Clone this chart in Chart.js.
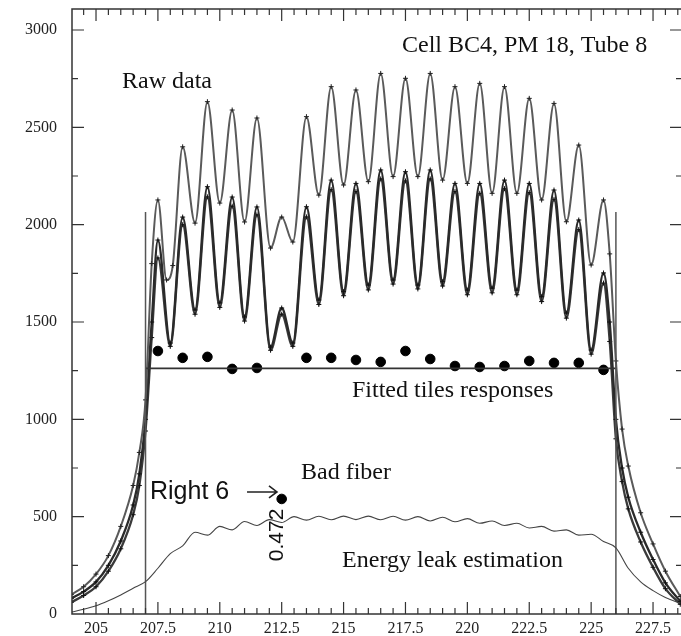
<!DOCTYPE html>
<html>
<head>
<meta charset="utf-8">
<script src="https://cdn.jsdelivr.net/npm/chart.js@4.4.1/dist/chart.umd.min.js"></script>
<style>
  html, body { margin: 0; padding: 0; background: #fff; overflow: hidden; }
  #wrap { position: relative; width: 681px; height: 636px; overflow: hidden; }
  canvas { position: absolute; left: 0; top: 0; }
</style>
</head>
<body>
<div id="wrap"><canvas id="chart" width="683" height="636"></canvas></div>
<script>
// axis ticks
const xTicks = [205, 207.5, 210, 212.5, 215, 217.5, 220, 222.5, 225, 227.5];
const yTicks = [0, 500, 1000, 1500, 2000, 2500, 3000];

// raw data, upper (grey) scan
const topX = [204.0, 204.5, 205.0, 205.5, 206.0, 206.5, 206.75, 207.0, 207.25, 207.5, 207.85, 208.1, 208.5, 209.0, 209.5, 210.0, 210.5, 211.0, 211.5, 212.05, 212.5, 212.95, 213.5, 214.0, 214.5, 215.0, 215.5, 216.0, 216.5, 217.0, 217.5, 218.0, 218.5, 219.0, 219.5, 220.0, 220.5, 221.0, 221.5, 222.0, 222.5, 223.0, 223.5, 224.0, 224.5, 225.0, 225.5, 225.75, 226.0, 226.25, 226.5, 227.0, 227.5, 228.0, 228.6];
const topY = [100, 140, 205, 300, 450, 660, 830, 1100, 1800, 2127, 1716, 1790, 2400, 2008, 2632, 2111, 2589, 2014, 2548, 1880, 2039, 1911, 2555, 2152, 2709, 2204, 2692, 2221, 2777, 2247, 2752, 2247, 2777, 2229, 2709, 2212, 2726, 2161, 2709, 2161, 2649, 2127, 2623, 2015, 2409, 1793, 2127, 1850, 1300, 950, 760, 520, 360, 220, 90];

// raw data, two lower (dark) scans
const lowX = [204.0, 204.5, 205.0, 205.5, 206.0, 206.5, 206.75, 207.0, 207.25, 207.5, 208.0, 208.5, 209.0, 209.5, 210.0, 210.5, 211.0, 211.5, 212.05, 212.5, 212.95, 213.5, 214.0, 214.5, 215.0, 215.5, 216.0, 216.5, 217.0, 217.5, 218.0, 218.5, 219.0, 219.5, 220.0, 220.5, 221.0, 221.5, 222.0, 222.5, 223.0, 223.5, 224.0, 224.5, 225.0, 225.5, 225.75, 226.0, 226.25, 226.5, 227.0, 227.5, 228.0, 228.6];
const lowAY = [80, 115, 165, 250, 375, 560, 720, 1000, 1500, 1921, 1392, 2039, 1562, 2195, 1598, 2142, 1526, 2091, 1371, 1572, 1392, 2092, 1613, 2229, 1656, 2212, 1690, 2281, 1716, 2272, 1690, 2281, 1707, 2212, 1664, 2212, 1674, 2229, 1664, 2212, 1630, 2178, 1546, 2024, 1356, 1752, 1500, 1000, 750, 600, 420, 280, 160, 65];
const lowBY = [60, 95, 140, 220, 335, 510, 660, 940, 1420, 1829, 1375, 2000, 1540, 2143, 1575, 2095, 1505, 2050, 1355, 1540, 1375, 2040, 1590, 2180, 1635, 2170, 1665, 2235, 1695, 2225, 1670, 2235, 1685, 2170, 1640, 2161, 1650, 2185, 1640, 2165, 1605, 2130, 1520, 1975, 1335, 1700, 1400, 900, 680, 540, 370, 240, 130, 50];

// fitted tile responses
const tileX = [207.5, 208.5, 209.5, 210.5, 211.5, 213.5, 214.5, 215.5, 216.5, 217.5, 218.5, 219.5, 220.5, 221.5, 222.5, 223.5, 224.5, 225.5];
const tileY = [1351, 1316, 1321, 1259, 1264, 1316, 1316, 1305, 1295, 1351, 1310, 1274, 1269, 1274, 1300, 1290, 1290, 1254];
const badX = [212.5];
const badY = [591];
const fitLevel = 1262;
const cellEdges = [207, 226];
const edgeTop = 2065;

// energy leak estimation
const leakX = [204.0, 204.5, 205.0, 205.5, 206.0, 206.5, 207.0, 207.5, 208.0, 208.5, 209.0, 209.5, 210.0, 210.5, 211.0, 211.5, 212.0, 212.5, 213.0, 213.5, 214.0, 214.5, 215.0, 215.5, 216.0, 216.5, 217.0, 217.5, 218.0, 218.5, 219.0, 219.5, 220.0, 220.5, 221.0, 221.5, 222.0, 222.5, 223.0, 223.5, 224.0, 224.5, 225.0, 225.5, 226.0, 226.5, 227.0, 227.5, 228.0, 228.6];
const leakY = [10, 24, 42, 68, 98, 132, 166, 235, 310, 350, 420, 405, 450, 432, 475, 455, 485, 470, 500, 482, 502, 484, 503, 485, 503, 484, 502, 482, 500, 478, 497, 474, 490, 466, 478, 455, 466, 442, 450, 426, 432, 405, 410, 372, 340, 235, 165, 120, 85, 55];

function pts(xs, ys) {
    return xs.map((x, i) => ({ x: x, y: ys[i] }));
}

const serif = '"Liberation Serif", "Times New Roman", serif';
const sans = '"Liberation Sans", Arial, sans-serif';

// text placed in data coordinates
const notes = [
    { text: 'Cell BC4, PM 18, Tube 8', x: 217.36, y: 2887, font: '24px ' + serif },
    { text: 'Raw data', x: 206.05, y: 2702, font: '24px ' + serif },
    { text: 'Fitted tiles responses', x: 215.34, y: 1115, font: '24px ' + serif },
    { text: 'Bad fiber', x: 213.28, y: 693, font: '24px ' + serif },
    { text: 'Energy leak estimation', x: 214.94, y: 241, font: '24px ' + serif },
    { text: 'Right 6', x: 207.18, y: 591, font: '25px ' + sans }
];

const framePlugin = {
    id: 'frame',
    afterDraw(chart) {
        const ctx = chart.ctx;
        const a = chart.chartArea;
        const xs = chart.scales.x;
        const ys = chart.scales.y;
        ctx.save();
        ctx.strokeStyle = '#333';
        ctx.lineWidth = 1.5;
        ctx.strokeRect(a.left, a.top, a.right - a.left, a.bottom - a.top);

        // inward ticks
        ctx.lineWidth = 1.2;
        ctx.beginPath();
        for (let v = 204.5; v < 228.6; v += 0.5) {
            const px = xs.getPixelForValue(v);
            const len = xTicks.includes(v) ? 12 : 6;
            ctx.moveTo(px, a.bottom); ctx.lineTo(px, a.bottom - len);
            ctx.moveTo(px, a.top); ctx.lineTo(px, a.top + len);
        }
        for (let v = 250; v < 3100; v += 250) {
            const py = ys.getPixelForValue(v);
            const len = yTicks.includes(v) ? 12 : 6;
            ctx.moveTo(a.left, py); ctx.lineTo(a.left + len, py);
            ctx.moveTo(a.right, py); ctx.lineTo(a.right - len, py);
        }
        ctx.stroke();

        // annotations
        ctx.fillStyle = '#111';
        ctx.textBaseline = 'alphabetic';
        ctx.textAlign = 'left';
        notes.forEach(n => {
            ctx.font = n.font;
            ctx.fillText(n.text, xs.getPixelForValue(n.x), ys.getPixelForValue(n.y));
        });

        // arrow towards the bad fiber
        const ax0 = xs.getPixelForValue(211.1);
        const ax1 = xs.getPixelForValue(212.31);
        const ay = ys.getPixelForValue(627);
        ctx.strokeStyle = '#222';
        ctx.lineWidth = 1.6;
        ctx.beginPath();
        ctx.moveTo(ax0, ay); ctx.lineTo(ax1, ay);
        ctx.moveTo(ax1 - 8, ay - 6); ctx.lineTo(ax1, ay); ctx.lineTo(ax1 - 8, ay + 6);
        ctx.stroke();

        // rotated value of the bad fiber
        ctx.save();
        ctx.translate(xs.getPixelForValue(212.32), ys.getPixelForValue(406));
        ctx.rotate(-Math.PI / 2);
        ctx.font = '21px ' + sans;
        ctx.textAlign = 'center';
        ctx.textBaseline = 'middle';
        ctx.fillText('0.472', 0, 0);
        ctx.restore();
        ctx.restore();
    }
};

const rawStyle = {
    pointStyle: 'cross',
    pointRadius: 2.5,
    pointBorderWidth: 1,
    cubicInterpolationMode: 'monotone',
    fill: false
};

new Chart(document.getElementById('chart'), {
    type: 'scatter',
    data: {
        datasets: [
            {
                label: 'Energy leak estimation',
                data: pts(leakX, leakY),
                showLine: true,
                borderColor: '#444',
                borderWidth: 1.1,
                pointRadius: 0,
                cubicInterpolationMode: 'monotone'
            },
            {
                label: 'left edge',
                data: [{ x: cellEdges[0], y: 0 }, { x: cellEdges[0], y: edgeTop }],
                showLine: true,
                borderColor: '#555',
                borderWidth: 1.5,
                pointRadius: 0
            },
            {
                label: 'right edge',
                data: [{ x: cellEdges[1], y: 0 }, { x: cellEdges[1], y: edgeTop }],
                showLine: true,
                borderColor: '#555',
                borderWidth: 1.5,
                pointRadius: 0
            },
            {
                label: 'fit',
                data: [{ x: cellEdges[0], y: fitLevel }, { x: cellEdges[1], y: fitLevel }],
                showLine: true,
                borderColor: '#333',
                borderWidth: 1.8,
                pointRadius: 0
            },
            Object.assign({
                label: 'Raw data top',
                data: pts(topX, topY),
                showLine: true,
                borderWidth: 2,
                borderColor: '#5a5a5a',
                pointBorderColor: '#222'
            }, rawStyle),
            Object.assign({
                label: 'Raw data A',
                data: pts(lowX, lowAY),
                showLine: true,
                borderWidth: 2.3,
                borderColor: '#2a2a2a',
                pointBorderColor: '#111'
            }, rawStyle),
            Object.assign({
                label: 'Raw data B',
                data: pts(lowX, lowBY),
                showLine: true,
                borderWidth: 2.3,
                borderColor: '#3a3a3a',
                pointBorderColor: '#111'
            }, rawStyle),
            {
                label: 'Fitted tiles responses',
                data: pts(tileX, tileY),
                pointRadius: 4.8,
                pointBackgroundColor: '#000',
                pointBorderColor: '#000'
            },
            {
                label: 'Bad fiber',
                data: pts(badX, badY),
                pointRadius: 4.8,
                pointBackgroundColor: '#000',
                pointBorderColor: '#000'
            }
        ]
    },
    options: {
        responsive: false,
        animation: false,
        layout: { autoPadding: false, padding: { top: 9, right: 1, left: 0, bottom: 0 } },
        plugins: {
            legend: { display: false },
            tooltip: { enabled: false }
        },
        scales: {
            x: {
                type: 'linear',
                min: 204.03,
                max: 228.67,
                grid: { display: false, drawTicks: false },
                border: { display: false },
                ticks: {
                    font: { family: serif, size: 16 },
                    color: '#222',
                    padding: 5,
                    maxRotation: 0,
                    autoSkip: false,
                    callback: v => String(v)
                },
                afterBuildTicks: ax => { ax.ticks = xTicks.map(v => ({ value: v })); },
                afterFit: ax => {
                    ax.height = 22;
                    ax.paddingLeft = 0;
                    ax.paddingRight = 0;
                }
            },
            y: {
                type: 'linear',
                min: 0,
                max: 3108,
                grid: { display: false, drawTicks: false },
                border: { display: false },
                ticks: {
                    font: { family: serif, size: 16 },
                    color: '#222',
                    padding: 15,
                    autoSkip: false,
                    callback: v => String(v)
                },
                afterBuildTicks: ax => { ax.ticks = yTicks.map(v => ({ value: v })); },
                afterFit: ax => {
                    ax.width = 72;
                    ax.paddingTop = 0;
                    ax.paddingBottom = 0;
                }
            }
        }
    },
    plugins: [framePlugin]
});
</script>
</body>
</html>
